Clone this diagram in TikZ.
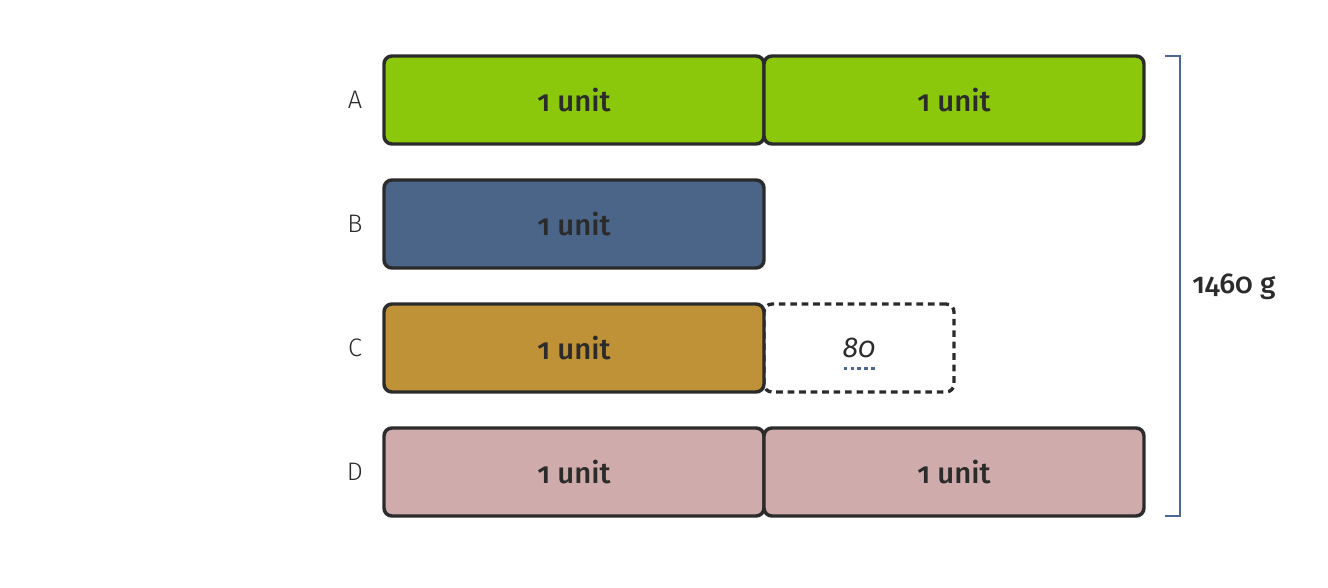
\documentclass[tikz,border=0pt]{standalone}
\usepackage{fontspec}
\setmainfont{Fira Sans}[Numbers=OldStyle]
\newfontfamily\medf{Fira Sans Medium}[Numbers=OldStyle]
\newfontfamily\lightf{Fira Sans Light}[Numbers=OldStyle]
\definecolor{ink}{HTML}{2B2B2B}
\definecolor{cA}{HTML}{8BC70A}
\definecolor{cB}{HTML}{4A6587}
\definecolor{cC}{HTML}{BF9238}
\definecolor{cD}{HTML}{D0ABAB}
\definecolor{brk}{HTML}{4B6690}
\begin{document}
\begin{tikzpicture}[x=0.75pt,y=-0.75pt,
  ubox/.style={draw=ink,line width=2.6pt,rounded corners=6pt,minimum width=285pt,minimum height=66pt,inner sep=0pt,text=ink,font=\medf\fontsize{22}{26}\selectfont},
  dbox/.style={draw=ink,line width=2.5pt,dash pattern=on 5pt off 3.6pt,rounded corners=6pt,minimum width=142.5pt,minimum height=66pt,inner sep=0pt},
  rowlab/.style={text=ink,font=\lightf\fontsize{19}{22}\selectfont},
  dotline/.style={draw=brk,line width=2pt,dash pattern=on 2.4pt off 2.8pt},
  brack/.style={draw=brk,line width=1.6pt}]
\useasboundingbox (0,0) rectangle (1328,588);
% row A
\node[ubox,fill=cA] (a1) at (574,100) {1 unit};
\node[ubox,fill=cA] (a2) at (954,100) {1 unit};
\node[rowlab] (la) at (355,100) {A};
% row B
\node[ubox,fill=cB] (b1) at (574,224) {1 unit};
\node[rowlab] (lb) at (355,224) {B};
% row C
\node[dbox] (c2) at (859,348) {};
\node[ubox,fill=cC] (c1) at (574,348) {1 unit};
\node[rowlab] (lc) at (355,348) {C};
\node[anchor=base,inner sep=0pt,text=ink,font=\itshape\fontsize{21.5}{25}\selectfont] (v80) at (859,357) {80};
\draw[dotline] ([yshift=-8.5pt,xshift=1pt]v80.base west) -- ([yshift=-8.5pt]v80.base east);
% row D
\node[ubox,fill=cD] (d1) at (574,472) {1 unit};
\node[ubox,fill=cD] (d2) at (954,472) {1 unit};
\node[rowlab] (ld) at (355,472) {D};
% bracket
\coordinate (t0) at (1165,56);
\coordinate (t1) at (1180,56);
\coordinate (b1p) at (1180,516);
\coordinate (b0) at (1165,516);
\draw[brack] (t0) -- (t1) -- (b1p) -- (b0);
\node[anchor=west,text=ink,inner sep=0pt,font=\medf\fontsize{21.5}{25}\selectfont] (tot) at (1192,287) {1460 g};
\end{tikzpicture}
\end{document}
